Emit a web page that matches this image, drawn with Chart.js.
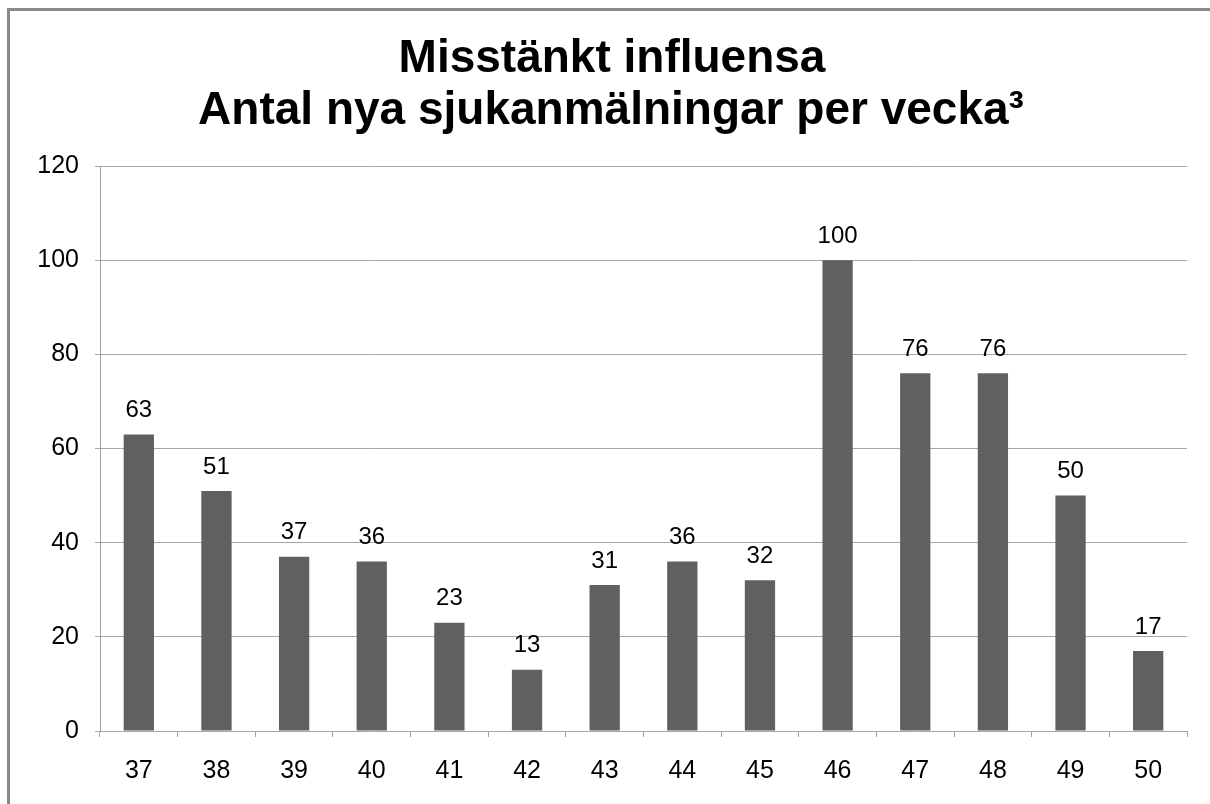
<!DOCTYPE html>
<html>
<head>
<meta charset="utf-8">
<script src="https://cdn.jsdelivr.net/npm/chart.js@4/dist/chart.umd.min.js"></script>
<style>
    html, body { margin: 0; padding: 0; background: #fff; overflow: hidden; }
    #wrap { position: relative; width: 1210px; height: 804px; }
    #frame { position: absolute; left: 7px; top: 8px; width: 1230px; height: 850px; border: 3px solid #898989; box-sizing: border-box; }
    canvas { position: absolute; left: 0; top: 0; }
</style>
</head>
<body>
<div id="wrap">
    <div id="frame"></div>
    <canvas id="chart" width="1210" height="804"></canvas>
</div>
<script>
// Weekly counts
const weeks = ['37', '38', '39', '40', '41', '42', '43', '44', '45', '46', '47', '48', '49', '50'];
const counts = [63, 51, 37, 36, 23, 13, 31, 36, 32, 100, 76, 76, 50, 17];
const titleLines = ['Misstänkt influensa', 'Antal nya sjukanmälningar per vecka³'];

const FONT = "'Liberation Sans', Arial, sans-serif";

// Title drawn by hand so the two lines sit where they do in the original
const titlePlugin = {
    id: 'slideTitle',
    afterDraw(chart) {
        const ctx = chart.ctx;
        ctx.save();
        ctx.fillStyle = '#000';
        ctx.textAlign = 'center';
        ctx.textBaseline = 'alphabetic';
        ctx.font = 'bold 46px ' + FONT;
        ctx.fillText(titleLines[0], 612, 72);
        ctx.fillText(titleLines[1], 611, 124);
        ctx.restore();
    }
};

// Value labels above each bar
const valueLabels = {
    id: 'valueLabels',
    afterDatasetsDraw(chart) {
        const ctx = chart.ctx;
        const meta = chart.getDatasetMeta(0);
        ctx.save();
        ctx.fillStyle = '#000';
        ctx.textAlign = 'center';
        ctx.textBaseline = 'middle';
        ctx.font = '24px ' + FONT;
        meta.data.forEach(function(bar, i) {
            ctx.fillText(String(counts[i]), bar.x, bar.y - 24);
        });
        ctx.restore();
    }
};

const ctx = document.getElementById('chart').getContext('2d');
new Chart(ctx, {
    type: 'bar',
    data: {
        labels: weeks,
        datasets: [{
            data: counts,
            backgroundColor: '#606060',
            categoryPercentage: 1,
            barPercentage: 0.39
        }]
    },
    options: {
        responsive: false,
        animation: false,
        layout: { padding: { left: 0, right: 23, top: 166, bottom: 0 } },
        plugins: {
            legend: { display: false },
            tooltip: { enabled: false },
            title: { display: false }
        },
        scales: {
            x: {
                afterFit: function(scale) { scale.height = 73; },
                grid: {
                    offset: true,
                    drawOnChartArea: false,
                    tickLength: 6,
                    color: '#a0a0a0'
                },
                border: { display: false },
                ticks: {
                    color: '#000',
                    font: { family: FONT, size: 25 },
                    padding: 19,
                    maxRotation: 0
                }
            },
            y: {
                min: 0,
                max: 120,
                afterFit: function(scale) { scale.width = 100; },
                grid: {
                    color: '#a6a6a6',
                    tickLength: 5
                },
                border: { color: '#a0a0a0' },
                ticks: {
                    stepSize: 20,
                    color: '#000',
                    font: { family: FONT, size: 25 },
                    padding: 16
                }
            }
        }
    },
    plugins: [titlePlugin, valueLabels]
});
</script>
</body>
</html>
